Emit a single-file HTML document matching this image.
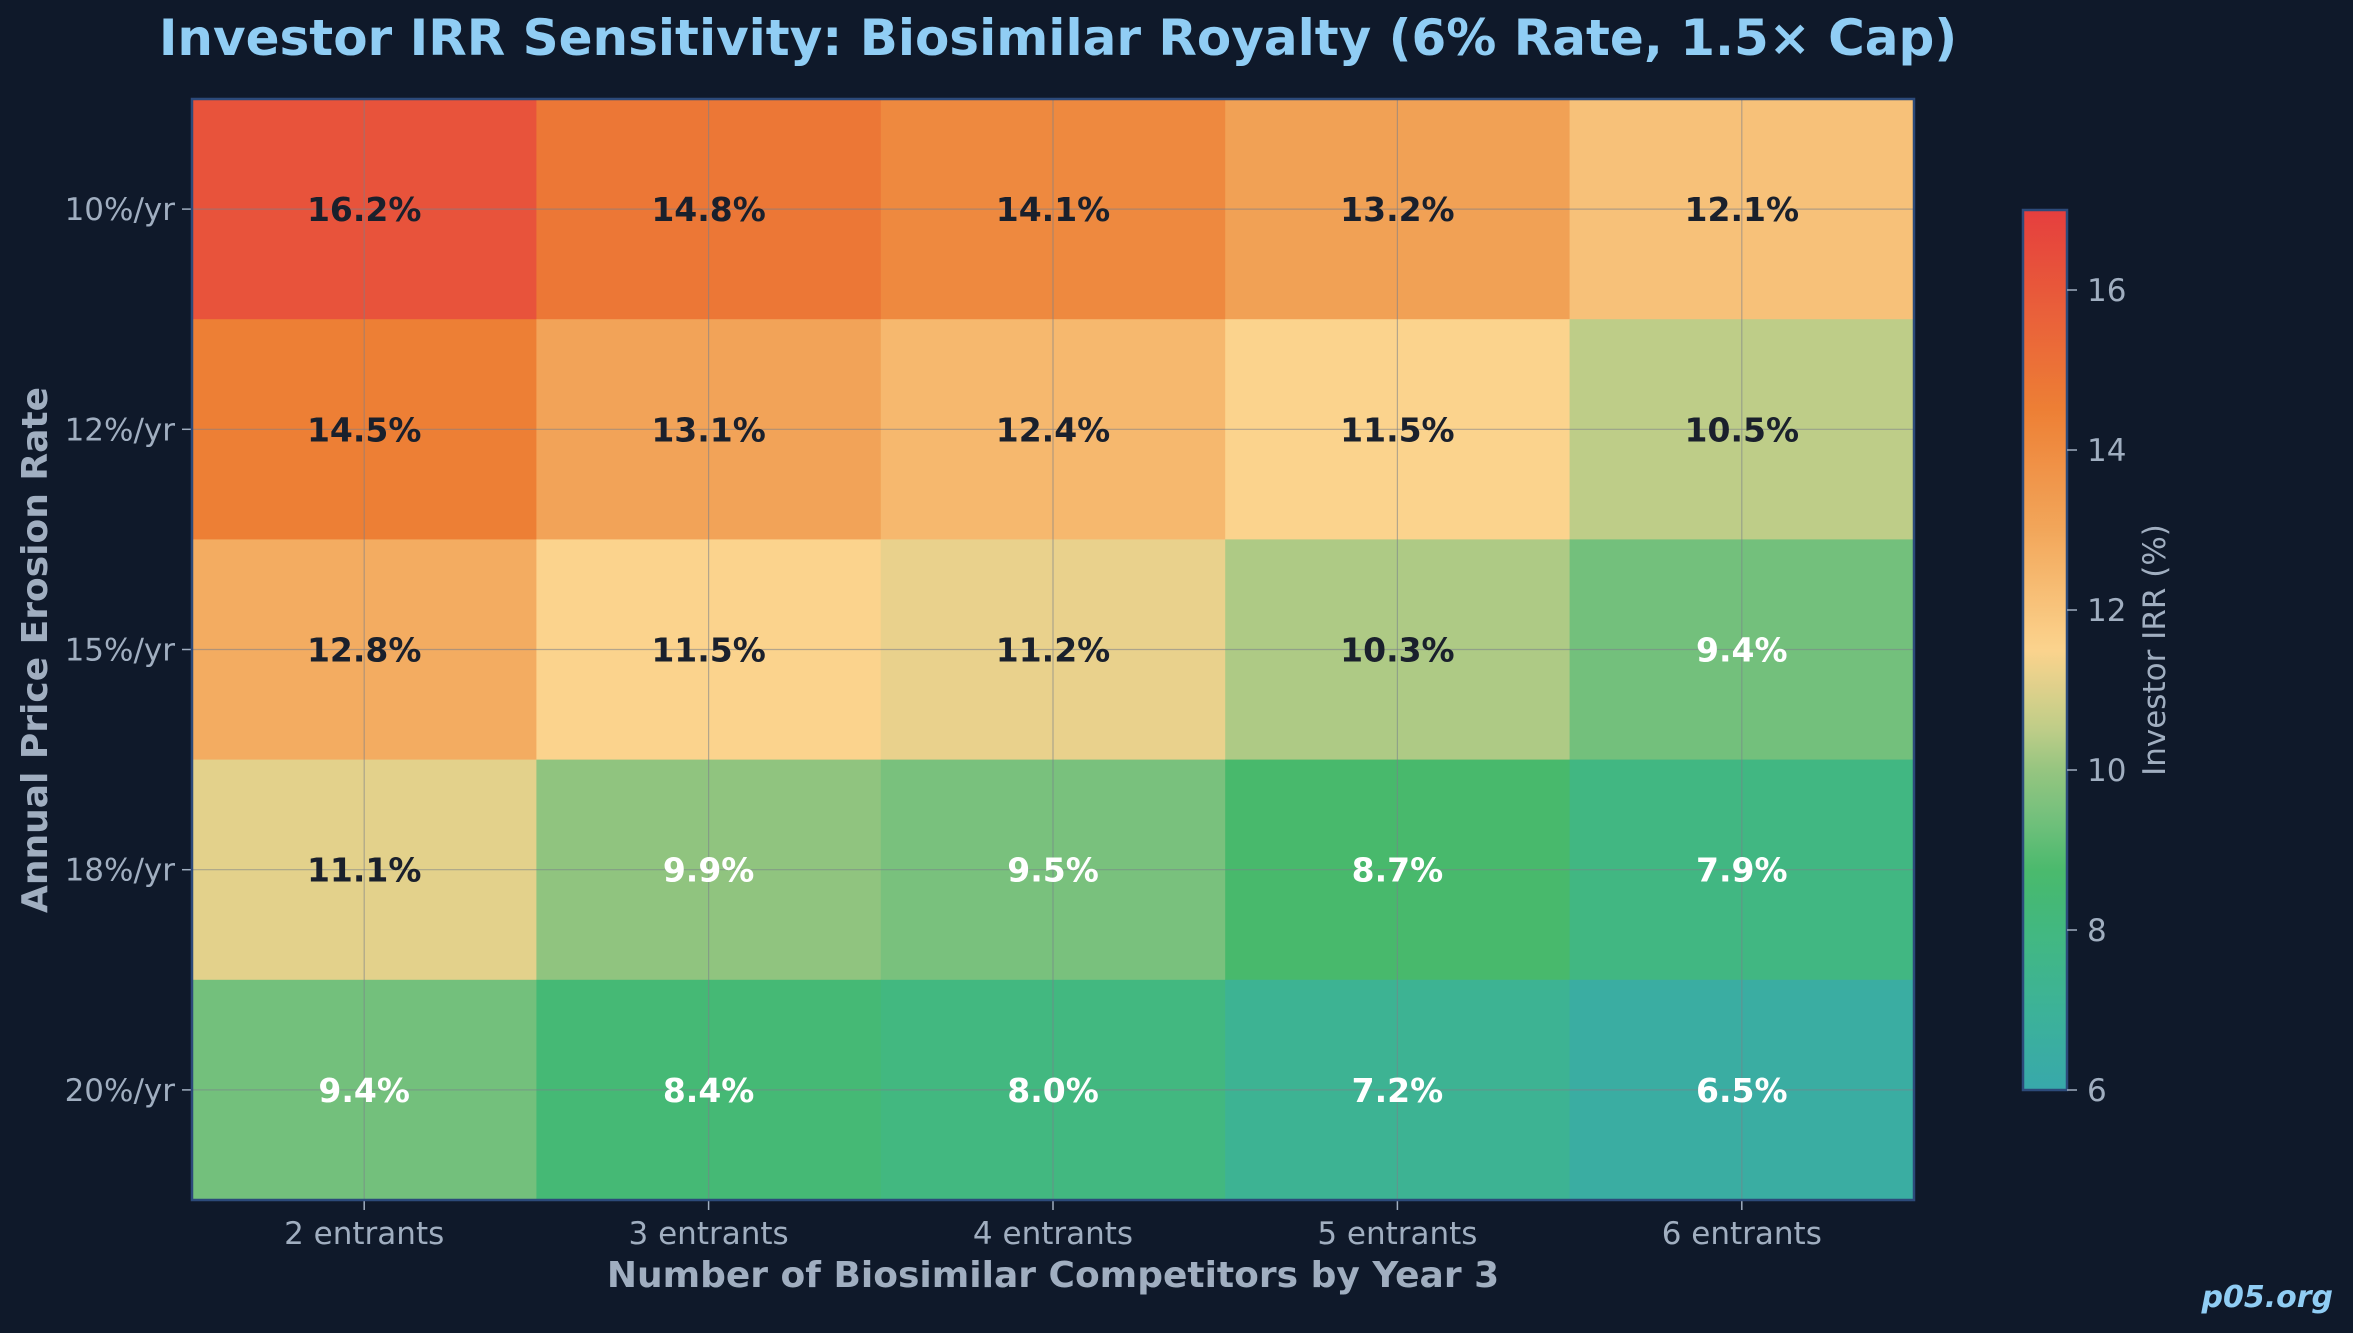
<!DOCTYPE html>
<html><head><meta charset="utf-8"><style>
html,body{margin:0;padding:0;background:#0f192a;}
svg{display:block;font-family:"DejaVu Sans","Liberation Sans",sans-serif;}
</style></head><body>
<svg id="chart" width="2353" height="1333" viewBox="0 0 2353 1333" xmlns="http://www.w3.org/2000/svg">
<rect x="0" y="0" width="2353" height="1333" fill="#0f192a"/>
<text x="1058" y="55" text-anchor="middle" font-size="50" font-weight="bold" fill="#90cdf4">Investor IRR Sensitivity: Biosimilar Royalty (6% Rate, 1.5× Cap)</text>
<g id="cells"></g><g id="grid"></g><g id="labels"></g><g id="axes"></g><g id="cbar"></g>
<text x="1053" y="1287" text-anchor="middle" font-size="36" font-weight="bold" fill="#a0aec0">Number of Biosimilar Competitors by Year 3</text>
<text transform="translate(47,650) rotate(-90)" text-anchor="middle" font-size="36" font-weight="bold" fill="#a0aec0">Annual Price Erosion Rate</text>
<text transform="translate(2165,650) rotate(-90)" text-anchor="middle" font-size="31" fill="#a0aec0">Investor IRR (%)</text>
<text x="2333" y="1307" text-anchor="end" font-size="30" font-weight="bold" font-style="italic" fill="#90cdf4">p05.org</text>
</svg>
<script>
const xCategories = ["2 entrants","3 entrants","4 entrants","5 entrants","6 entrants"];
const yCategories = ["10%/yr","12%/yr","15%/yr","18%/yr","20%/yr"];
const irrValues = [
 [16.2,14.8,14.1,13.2,12.1],
 [14.5,13.1,12.4,11.5,10.5],
 [12.8,11.5,11.2,10.3,9.4],
 [11.1,9.9,9.5,8.7,7.9],
 [9.4,8.4,8.0,7.2,6.5]
];
const colorbarTicks = [6,8,10,12,14,16];
const vmin = 6, vmax = 17;

const NS="http://www.w3.org/2000/svg";
const X0=192,X1=1914,Y0=99,Y1=1200;
const cw=(X1-X0)/xCategories.length, ch=(Y1-Y0)/yCategories.length;
const xPos=i=>X0+cw*(i+0.5), yPos=j=>Y0+ch*(j+0.5);
const CB={x:2023,w:44,top:210,bot:1090};
const cbY=v=>CB.bot-(v-vmin)/(vmax-vmin)*(CB.bot-CB.top);
const stops=[[6,[56,168,171]],[7,[60,178,152]],[8,[66,184,128]],[8.7,[72,185,108]],[9.4,[115,192,124]],[10,[150,197,128]],[10.5,[190,205,136]],[11.5,[251,211,141]],[13,[242,166,90]],[14.5,[237,127,53]],[17,[229,62,62]]];
function color(v){
  v=Math.max(vmin,Math.min(vmax,v));
  for(let i=0;i<stops.length-1;i++){const [a,ca]=stops[i],[b,cb]=stops[i+1];
    if(v<=b){const t=(v-a)/(b-a);return "rgb("+ca.map((c,k)=>Math.round(c+(cb[k]-c)*t)).join(",")+")";}}
  return "rgb(229,62,62)";
}
function mk(tag,attrs,parent,text){const e=document.createElementNS(NS,tag);for(const k in attrs)e.setAttribute(k,attrs[k]);if(text!=null)e.textContent=text;document.getElementById(parent).appendChild(e);return e;}
irrValues.forEach((row,j)=>row.forEach((v,i)=>{
  const r=mk("rect",{x:X0+cw*i,y:Y0+ch*j,width:cw+0.5,height:ch+0.5,fill:color(v)},"cells");
  
  
  const t=mk("text",{x:xPos(i),y:yPos(j)+12,"text-anchor":"middle","font-size":33,"font-weight":"bold",fill:v<10?"#ffffff":"#1a202c"},"labels",v.toFixed(1)+"%");
  
  
}));
xCategories.forEach((c,i)=>{
  const g=mk("line",{x1:xPos(i),x2:xPos(i),y1:Y0,y2:Y1,stroke:"#7a808a","stroke-opacity":0.55,"stroke-width":1.2},"grid");
  
  
  mk("line",{x1:xPos(i),x2:xPos(i),y1:Y1,y2:Y1+10,stroke:"#a0aec0","stroke-width":1.5},"axes");
  const t=mk("text",{x:xPos(i),y:Y1+44,"text-anchor":"middle","font-size":31,fill:"#a0aec0"},"axes",c);
  
  
});
yCategories.forEach((c,j)=>{
  const g=mk("line",{x1:X0,x2:X1,y1:yPos(j),y2:yPos(j),stroke:"#7a808a","stroke-opacity":0.55,"stroke-width":1.2},"grid");
  
  
  mk("line",{x1:X0-10,x2:X0,y1:yPos(j),y2:yPos(j),stroke:"#a0aec0","stroke-width":1.5},"axes");
  const t=mk("text",{x:X0-17,y:yPos(j)+11,"text-anchor":"end","font-size":31,fill:"#a0aec0"},"axes",c);
  
  
});
const frame=mk("rect",{x:X0,y:Y0,width:X1-X0,height:Y1-Y0,fill:"none",stroke:"#2c4a7a","stroke-width":2.5},"axes");


const defs=mk("defs",{},"cbar");
const grad=document.createElementNS(NS,"linearGradient");grad.setAttribute("id","cg");grad.setAttribute("x1","0");grad.setAttribute("y1","1");grad.setAttribute("x2","0");grad.setAttribute("y2","0");defs.appendChild(grad);
for(let k=0;k<=44;k++){const v=vmin+(vmax-vmin)*k/44;const s=document.createElementNS(NS,"stop");s.setAttribute("offset",k/44);s.setAttribute("stop-color",color(v));grad.appendChild(s);}
const cb=mk("rect",{x:CB.x,y:CB.top,width:CB.w,height:CB.bot-CB.top,fill:"url(#cg)",stroke:"#2c4a7a","stroke-width":2.5},"cbar");


colorbarTicks.forEach(v=>{
  mk("line",{x1:CB.x+CB.w,x2:CB.x+CB.w+10,y1:cbY(v),y2:cbY(v),stroke:"#a0aec0","stroke-width":1.5},"cbar");
  const t=mk("text",{x:CB.x+CB.w+20,y:cbY(v)+11,"font-size":31,fill:"#a0aec0"},"cbar",String(v));
  
  
});
</script>
</body></html>
